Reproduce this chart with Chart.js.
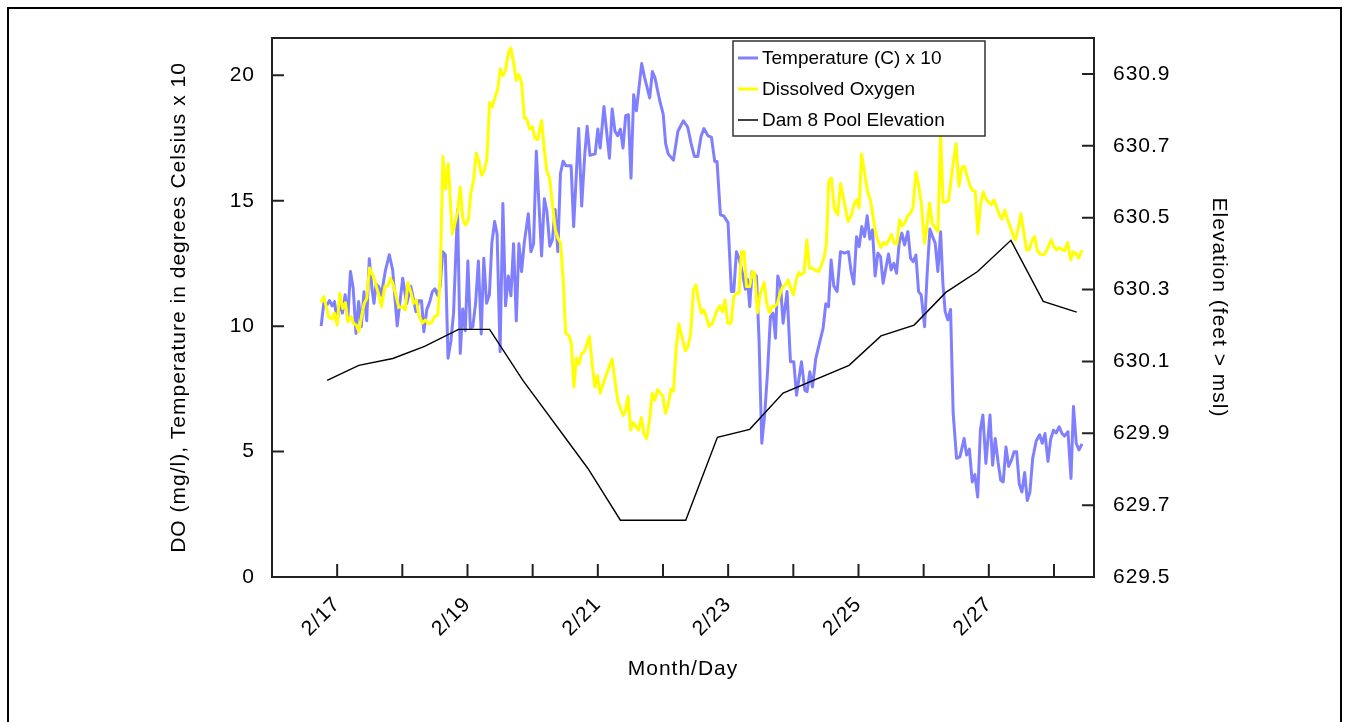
<!DOCTYPE html>
<html>
<head>
<meta charset="utf-8">
<script src="https://cdn.jsdelivr.net/npm/chart.js@4.4.0/dist/chart.umd.min.js"></script>
<style>
html,body{margin:0;padding:0;background:#fff;width:1349px;height:722px;overflow:hidden;}
#frame{position:absolute;left:7px;top:7px;width:1335px;height:800px;border:2px solid #000;box-sizing:border-box;}
#wrap{position:absolute;left:0;top:0;width:1349px;height:722px;}
</style>
</head>
<body>
<div id="frame"></div>
<div id="wrap"><canvas id="c" width="1349" height="722"></canvas></div>
<script>
// ---- Data (x = day of February) ----
const tempDays = [
16.754,16.794,16.846,16.882,16.923,16.959,17.000,17.040,17.081,17.123,
17.163,17.204,17.246,17.289,17.330,17.370,17.412,17.453,17.493,17.534,
17.565,17.596,17.637,17.677,17.739,17.800,17.852,17.921,18.006,18.067,
18.130,18.210,18.252,18.295,18.330,18.376,18.422,18.460,18.502,18.540,
18.579,18.620,18.660,18.701,18.744,18.786,18.847,18.889,18.927,18.966,
19.006,19.044,19.082,19.124,19.167,19.211,19.250,19.293,19.336,19.374,
19.416,19.454,19.500,19.543,19.584,19.626,19.666,19.707,19.749,19.789,
19.830,19.872,19.933,19.973,20.014,20.056,20.137,20.179,20.219,20.263,
20.303,20.345,20.386,20.426,20.467,20.509,20.590,20.629,20.706,20.752,
20.798,20.836,20.879,20.959,21.000,21.036,21.094,21.178,21.220,21.263,
21.304,21.346,21.386,21.427,21.469,21.509,21.550,21.592,21.673,21.716,
21.796,21.837,21.877,21.957,22.003,22.041,22.080,22.160,22.229,22.313,
22.379,22.430,22.482,22.533,22.584,22.628,22.691,22.743,22.794,22.829,
22.881,22.932,22.998,23.050,23.086,23.127,23.167,23.219,23.265,23.296,
23.331,23.367,23.434,23.474,23.516,23.562,23.603,23.649,23.689,23.726,
23.761,23.803,23.843,23.904,23.956,24.007,24.049,24.125,24.176,24.211,
24.253,24.294,24.345,24.457,24.498,24.540,24.580,24.621,24.672,24.724,
24.786,24.847,24.887,24.928,24.970,25.010,25.051,25.093,25.133,25.174,
25.215,25.255,25.297,25.338,25.378,25.420,25.461,25.501,25.543,25.584,
25.624,25.666,25.707,25.758,25.799,25.839,25.881,25.922,25.962,26.014,
26.054,26.096,26.137,26.177,26.218,26.260,26.295,26.330,26.372,26.413,
26.453,26.505,26.556,26.621,26.659,26.702,26.745,26.786,26.829,26.871,
26.909,26.955,27.018,27.058,27.098,27.143,27.183,27.221,27.263,27.304,
27.345,27.386,27.427,27.467,27.508,27.550,27.590,27.631,27.673,27.728,
27.780,27.820,27.862,27.908,27.949,27.992,28.033,28.080,28.123,28.161,
28.215,28.261,28.299,28.342,28.384,28.430
];
const tempValues = [
10.00,10.91,10.85,11.02,10.81,10.98,10.18,10.98,10.52,11.25,
10.32,12.18,11.51,9.71,10.98,9.98,11.37,10.22,12.69,11.49,
10.91,11.68,11.57,11.23,12.20,12.85,12.24,10.01,11.91,10.90,
11.59,10.58,11.01,11.01,9.78,10.67,10.98,11.37,11.49,11.23,
11.58,12.97,12.84,8.72,9.38,10.52,14.64,8.91,10.69,9.82,
12.60,9.92,9.98,10.91,12.60,9.69,12.71,10.91,11.25,13.31,
14.17,13.68,8.98,14.89,10.81,12.00,11.21,13.29,10.21,13.29,
12.18,13.34,14.48,12.97,13.28,16.97,12.80,15.08,14.57,13.19,
13.45,14.65,12.97,16.08,16.58,16.40,16.40,13.97,17.88,14.79,
16.79,17.97,16.81,16.87,17.86,17.10,18.76,16.70,18.66,17.77,
17.59,17.86,17.10,18.39,18.43,15.90,19.23,18.59,20.47,19.93,
19.10,20.15,19.90,18.91,18.45,17.27,16.87,16.62,17.77,18.19,
17.94,17.30,16.77,16.77,17.56,17.88,17.59,17.54,16.57,16.57,
14.44,14.40,14.13,11.38,11.38,12.97,12.71,12.11,11.47,11.87,
10.78,12.18,12.00,9.45,5.33,6.52,8.12,10.38,10.52,9.52,
12.00,11.64,10.12,11.38,8.58,8.58,7.25,8.58,7.45,7.39,
8.18,7.58,8.72,9.92,10.89,10.78,12.64,11.60,11.38,12.97,
12.91,12.97,12.18,11.68,13.57,13.17,13.97,13.57,14.40,13.47,
13.84,12.00,12.91,12.77,11.71,12.31,12.88,12.24,12.51,12.11,
13.31,13.71,13.24,13.77,12.71,12.57,12.84,11.38,11.25,9.98,
12.11,13.87,13.57,13.31,12.18,13.77,11.71,10.58,10.25,10.67,
6.52,4.73,4.79,5.52,4.86,5.10,3.79,4.08,3.19,5.86,
6.46,4.53,6.46,4.46,5.52,4.56,3.86,3.79,5.18,4.41,
4.64,4.99,4.99,3.71,3.39,4.17,3.05,3.39,4.73,5.43,
5.67,5.33,5.72,4.61,5.49,5.85,5.74,5.99,5.72,5.62,
5.79,3.93,6.80,5.32,5.07,5.31
];
const doDays = [
16.754,16.794,16.871,16.923,16.959,17.000,17.040,17.086,17.127,17.163,
17.215,17.250,17.292,17.332,17.373,17.415,17.455,17.496,17.547,17.588,
17.639,17.680,17.731,17.777,17.814,17.854,17.906,17.946,17.998,18.044,
18.084,18.136,18.172,18.213,18.253,18.305,18.356,18.407,18.459,18.494,
18.545,18.582,18.622,18.663,18.705,18.766,18.806,18.847,18.889,18.929,
18.970,19.012,19.052,19.093,19.135,19.174,19.216,19.257,19.297,19.339,
19.380,19.420,19.462,19.503,19.543,19.584,19.626,19.666,19.707,19.749,
19.789,19.830,19.872,19.912,19.953,19.994,20.034,20.076,20.137,20.179,
20.219,20.260,20.302,20.348,20.388,20.429,20.471,20.506,20.557,20.593,
20.633,20.670,20.710,20.752,20.793,20.871,20.913,20.954,20.994,21.036,
21.123,21.220,21.261,21.307,21.389,21.423,21.463,21.504,21.545,21.627,
21.668,21.708,21.750,21.796,21.834,21.876,21.916,21.954,21.998,22.038,
22.080,22.121,22.161,22.200,22.244,22.302,22.344,22.384,22.425,22.467,
22.507,22.548,22.590,22.625,22.656,22.706,22.759,22.820,22.871,22.912,
22.952,22.993,23.044,23.086,23.127,23.167,23.204,23.244,23.281,23.331,
23.373,23.408,23.450,23.490,23.551,23.592,23.634,23.674,23.715,23.757,
23.797,23.838,23.880,23.920,23.961,24.002,24.042,24.084,24.125,24.165,
24.207,24.248,24.288,24.330,24.391,24.432,24.473,24.507,24.543,24.584,
24.630,24.680,24.726,24.764,24.840,24.891,24.936,24.975,25.010,25.047,
25.095,25.136,25.182,25.221,25.262,25.302,25.343,25.385,25.425,25.466,
25.507,25.548,25.589,25.630,25.671,25.712,25.753,25.793,25.835,25.881,
25.922,25.962,26.014,26.050,26.091,26.131,26.173,26.219,26.260,26.299,
26.345,26.383,26.423,26.464,26.498,26.541,26.587,26.628,26.668,26.709,
26.751,26.791,26.832,26.874,26.914,26.955,26.997,27.037,27.078,27.120,
27.160,27.201,27.247,27.289,27.335,27.378,27.408,27.447,27.493,27.539,
27.580,27.620,27.662,27.703,27.743,27.784,27.850,27.892,27.958,27.999,
28.041,28.081,28.122,28.164,28.210,28.256,28.296,28.337,28.379,28.430
];
const doValues = [
10.94,11.18,10.36,10.28,10.52,10.05,11.31,10.71,10.94,10.18,
10.38,10.12,10.05,9.78,10.38,10.91,11.11,12.32,12.04,11.71,
11.25,10.78,11.58,11.60,11.91,11.71,11.18,10.75,10.78,10.65,
11.74,11.31,10.91,11.05,10.45,10.12,10.25,10.09,10.18,10.38,
10.45,11.98,16.77,15.47,16.48,13.68,14.08,14.53,15.55,14.27,
14.04,14.24,15.33,15.81,16.90,16.57,16.02,16.21,16.66,18.92,
18.74,19.10,19.43,20.26,19.99,20.20,20.89,21.09,20.50,19.80,
20.03,19.70,18.30,18.26,17.86,17.96,17.50,17.43,18.20,17.03,
16.17,15.90,14.91,13.84,13.51,13.31,11.71,9.72,9.61,9.32,
7.58,8.73,8.49,8.92,8.98,9.59,8.49,7.57,8.03,7.33,
8.01,8.70,7.85,7.01,6.44,6.59,7.20,5.86,6.15,5.86,
6.36,5.70,5.52,6.32,7.32,7.05,7.47,7.35,7.20,6.53,
6.87,7.48,7.41,9.05,10.09,9.45,9.02,9.18,9.72,11.45,
11.64,10.98,10.52,10.65,10.45,9.98,10.12,10.58,10.81,10.58,
11.05,10.12,10.12,11.18,11.31,11.31,12.97,12.97,11.58,11.58,
12.18,12.11,10.54,11.25,11.74,10.91,10.54,10.78,10.78,10.91,
11.31,11.58,11.64,11.84,11.51,11.25,11.84,12.14,12.04,12.14,
13.44,12.31,12.31,12.24,12.18,12.44,12.77,13.24,15.77,15.90,
14.68,14.44,15.69,15.17,14.17,14.44,14.91,15.04,14.71,16.87,
16.08,15.40,15.04,14.44,13.74,13.37,13.14,13.34,13.26,13.44,
13.66,13.31,13.28,14.24,14.00,14.12,14.40,14.48,14.72,16.14,
15.64,14.94,13.31,13.97,14.91,14.11,13.94,13.77,17.71,14.94,
14.95,15.01,15.90,16.70,17.27,15.58,16.34,16.37,15.98,15.62,
15.40,15.39,13.68,14.88,15.35,15.08,14.94,14.84,15.03,14.76,
14.44,14.27,14.63,14.24,13.91,13.58,13.44,13.84,14.48,13.71,
13.04,13.06,13.41,13.57,13.04,12.87,12.86,13.04,13.44,13.17,
13.04,13.13,13.06,13.01,13.34,12.65,12.97,12.89,12.71,13.04
];
const elevDays = [16.846,17.332,17.854,18.341,18.863,19.339,19.850,20.848,21.346,22.349,
22.835,23.331,23.843,24.855,25.346,25.854,26.340,26.828,27.339,27.835,28.348];
const elevValues = [630.047,630.089,630.108,630.142,630.189,630.189,630.047,629.802,629.658,629.658,
629.889,629.911,630.012,630.089,630.171,630.201,630.292,630.350,630.437,630.267,630.237];

const tickDays = [17,18,19,20,21,22,23,24,25,26,27,28];
const labelDays = [17,19,21,23,25,27];
const leftTicks = [0,5,10,15,20];
const rightTicks = [629.5,629.7,629.9,630.1,630.3,630.5,630.7,630.9];
const seriesLabels = ['Temperature (C) x 10','Dissolved Oxygen','Dam 8 Pool Elevation'];

const FAMILY = "'Liberation Sans', Arial, Helvetica, sans-serif";
const FONT = {family: FAMILY, size: 21};

const pts = (xs, ys) => xs.map((x, i) => ({x, y: ys[i]}));

const spacing = {
  id: 'spacing',
  beforeDraw(chart) { chart.ctx.letterSpacing = '1px'; }
};

const frameTicks = {
  id: 'frameTicks',
  afterDraw(chart) {
    const {ctx, chartArea: {left, right, top, bottom}, scales} = chart;
    ctx.save();
    ctx.strokeStyle = '#222';
    ctx.lineWidth = 2;
    ctx.beginPath();
    scales.x.ticks.forEach(t => {
      const px = scales.x.getPixelForValue(t.value);
      ctx.moveTo(px, bottom); ctx.lineTo(px, bottom - 13);
    });
    scales.y.ticks.forEach(t => {
      const py = scales.y.getPixelForValue(t.value);
      ctx.moveTo(left, py); ctx.lineTo(left + 12, py);
    });
    scales.y2.ticks.forEach(t => {
      const py = scales.y2.getPixelForValue(t.value);
      ctx.moveTo(right, py); ctx.lineTo(right - 12, py);
    });
    ctx.stroke();
    ctx.strokeRect(left, top, right - left, bottom - top);
    ctx.restore();
  }
};

const boxLegend = {
  id: 'boxLegend',
  afterDraw(chart) {
    const {ctx, chartArea: {left, top}} = chart;
    const bx = left + 461, by = top + 3, bw = 252, bh = 95;
    ctx.save();
    ctx.letterSpacing = '0px';
    ctx.fillStyle = '#fff';
    ctx.fillRect(bx, by, bw, bh);
    ctx.strokeStyle = '#333';
    ctx.lineWidth = 1.5;
    ctx.strokeRect(bx, by, bw, bh);
    ctx.font = '19px ' + FAMILY;
    ctx.textBaseline = 'middle';
    ctx.textAlign = 'left';
    chart.data.datasets.forEach((ds, i) => {
      const cy = by + 17 + i * 31;
      ctx.strokeStyle = ds.borderColor;
      ctx.lineWidth = i === 2 ? 1.5 : 3;
      ctx.beginPath();
      ctx.moveTo(bx + 5, cy); ctx.lineTo(bx + 25, cy);
      ctx.stroke();
      ctx.fillStyle = '#000';
      ctx.fillText(ds.label, bx + 29, cy + 1);
    });
    ctx.restore();
  }
};

new Chart(document.getElementById('c'), {
  type: 'line',
  data: {
    datasets: [
      {label: seriesLabels[0], data: pts(tempDays, tempValues), borderColor: '#8080ff',
       borderWidth: 3, pointRadius: 0, tension: 0, yAxisID: 'y', order: 3, borderJoinStyle: 'round'},
      {label: seriesLabels[1], data: pts(doDays, doValues), borderColor: '#ffff00',
       borderWidth: 3, pointRadius: 0, tension: 0, yAxisID: 'y', order: 2, borderJoinStyle: 'round'},
      {label: seriesLabels[2], data: pts(elevDays, elevValues), borderColor: '#000000',
       borderWidth: 1.4, pointRadius: 0, tension: 0, yAxisID: 'y2', order: 1}
    ]
  },
  options: {
    responsive: false,
    animation: false,
    events: [],
    layout: {padding: {left: 167, right: 118, top: 38, bottom: 40}},
    plugins: {legend: {display: false}, tooltip: {enabled: false}},
    scales: {
      x: {
        type: 'linear', position: 'bottom', min: 16, max: 28.614,
        afterBuildTicks: s => { s.ticks = tickDays.map(v => ({value: v})); },
        afterFit: s => { s.height = 105; },
        ticks: {autoSkip: false, maxRotation: 45, minRotation: 45, padding: 15, color: '#000', font: FONT,
                callback: v => labelDays.includes(v) ? '2/' + v : ''},
        grid: {drawOnChartArea: false, drawTicks: false},
        border: {display: false},
        title: {display: true, text: 'Month/Day', color: '#000', font: FONT, padding: 0}
      },
      y: {
        type: 'linear', position: 'left', min: 0, max: 21.49,
        afterBuildTicks: s => { s.ticks = leftTicks.map(v => ({value: v})); },
        afterFit: s => { s.width = 105; },
        ticks: {padding: 17, color: '#000', font: FONT, callback: v => String(v)},
        grid: {drawOnChartArea: false, drawTicks: false},
        border: {display: false},
        title: {display: true, text: 'DO (mg/l), Temperature in degrees Celsius x 10', color: '#000', font: FONT, padding: 0}
      },
      y2: {
        type: 'linear', position: 'right', min: 629.5, max: 631.0,
        afterBuildTicks: s => { s.ticks = rightTicks.map(v => ({value: v})); },
        afterFit: s => { s.width = 137; },
        ticks: {padding: 19, color: '#000', font: FONT, callback: v => v.toFixed(1)},
        grid: {drawOnChartArea: false, drawTicks: false},
        border: {display: false},
        title: {display: true, text: 'Elevation (feet > msl)', color: '#000', font: FONT, padding: 0}
      }
    }
  },
  plugins: [spacing, frameTicks, boxLegend]
});
</script>
</body>
</html>
